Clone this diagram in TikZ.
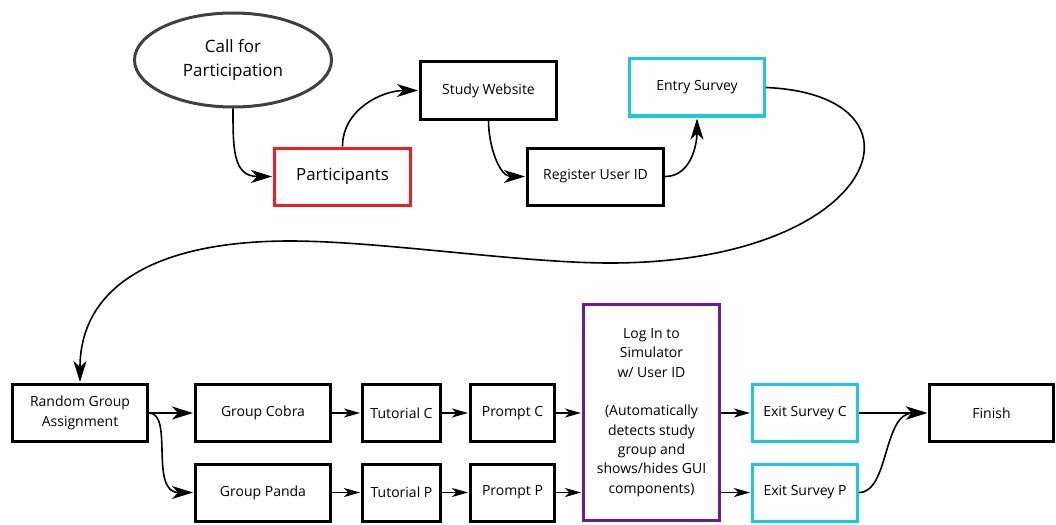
\documentclass[tikz,border=0pt]{standalone}
\usepackage{fontspec}
\setmainfont{Open Sans}
\usepackage{tikz}
\usetikzlibrary{arrows.meta, positioning, shapes.geometric}
\usepackage{xcolor}
\definecolor{partred}{RGB}{237,30,36}
\definecolor{surveycyan}{RGB}{30,200,216}
\definecolor{loginpurple}{RGB}{108,28,140}
\definecolor{callgray}{RGB}{64,64,64}

\begin{document}
\begin{tikzpicture}[x=1pt,y=-1pt,shorten >=1pt,line width=1.6pt,
    >={Stealth[length=21pt,width=13pt,inset=6pt]}]
  \tikzstyle{every node}=[inner sep=0pt,align=center,font=\fontsize{14}{19.3}\selectfont]
  \tikzstyle{stage}=[draw,line width=3pt,minimum height=57pt,fill=white]
  \tikzstyle{survey}=[stage,draw=surveycyan]
  \tikzstyle{short}=[-{Stealth[length=16pt,width=9pt,inset=4.5pt]}]

  \useasboundingbox (0,0) rectangle (1056,524);

  \node[ellipse,draw=callgray,line width=3pt,minimum width=197pt,minimum height=94pt,
        font=\fontsize{17}{24}\selectfont] (call) at (233,60) {Call for\\Participation};
  \node[stage,draw=partred,minimum width=136pt,font=\fontsize{16.8}{22}\selectfont]
        (part) at (342.5,176.5) {Participants};
  \node[stage,minimum width=136pt] (site) at (488.5,90.5) {Study Website};
  \node[stage,minimum width=136pt] (reg)  at (595.5,176.5) {Register User ID};
  \node[survey,minimum width=135pt] (entry) at (697,87.5) {Entry Survey};

  \node[stage,minimum width=135pt] (rga)  at (80,413)    {Random Group\\Assignment};
  \node[stage,minimum width=135pt] (cobra) at (263,413)  {Group Cobra};
  \node[stage,minimum width=135pt] (panda) at (263,492.5) {Group Panda};
  \node[stage,minimum width=78pt]  (tutc) at (401.5,413)  {Tutorial C};
  \node[stage,minimum width=78pt]  (tutp) at (401.5,492.5) {Tutorial P};
  \node[stage,minimum width=84pt]  (prc)  at (512.5,413)  {Prompt C};
  \node[stage,minimum width=84pt]  (prp)  at (512.5,492.5) {Prompt P};
  \node[stage,draw=loginpurple,minimum width=136pt,minimum height=216pt]
        (login) at (651.5,412.5) {Log In to\\Simulator\\w/ User ID\\[19.3pt](Automatically\\detects study\\group and\\shows/hides GUI\\components)};
  \node[survey,minimum width=105pt] (exc) at (805,413)   {Exit Survey C};
  \node[survey,minimum width=105pt] (exp) at (805,492.5) {Exit Survey P};
  \node[stage,minimum width=124pt]  (fin) at (991.5,413) {Finish};

  \path[->]
  (call.south) edge [out=-90,in=180,looseness=1.3] (part.west)
  (part.north) edge [out=90,in=180]  (site.west)
  (site.south) edge [out=-90,in=180] (reg.west)
  (reg.east)   edge [out=0,in=-90]   (entry.south)
  (rga)        edge                  (cobra)
  (exc)        edge                  (fin)
  ;

  \draw[->] (entry.east) .. controls (940,95) and (880,263) .. (610,263)
    .. controls (520,263) and (380,241) .. (290,241)
    .. controls (150,241) and (80,290) .. (rga.north);
  \draw[->] (rga.east) .. controls +(25,0) and +(-45,0) .. (panda.west);
  \draw[->] (exp.east) .. controls +(30,0) and +(-45,0) .. (fin.west);

  \path[short]
  (cobra) edge (tutc)
  (tutc)  edge (prc)
  (prc)   edge (prc -| login.west)
  (panda) edge (tutp)
  (tutp)  edge (prp)
  (prp)   edge (prp -| login.west)
  (login.east |- exc) edge (exc)
  (login.east |- exp) edge (exp)
  ;
\end{tikzpicture}
\end{document}
